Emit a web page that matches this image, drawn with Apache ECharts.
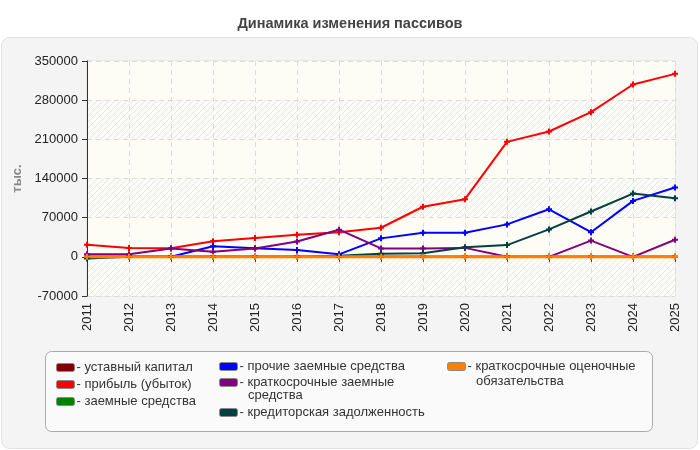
<!DOCTYPE html>
<html>
<head>
<meta charset="utf-8">
<script src="https://cdn.jsdelivr.net/npm/echarts@6/dist/echarts.min.js"></script>
<style>
  html, body { margin: 0; padding: 0; background: #ffffff; }
  #chart { width: 700px; height: 450px; }
</style>
</head>
<body>
<div id="chart"></div>
<script>
// данные
var years = ['2011', '2012', '2013', '2014', '2015', '2016', '2017', '2018', '2019', '2020', '2021', '2022', '2023', '2024', '2025'];
var ustavny = [0, 0, 0, 0, 0, 0, 0, 0, 0, 0, 0, 0, 0, 0, 0];
var pribyl = [21500, 16000, 15500, 28000, 33500, 39500, 44000, 52000, 89500, 103000, 205500, 224000, 258500, 308000, 327000];
var zaemnye = [0, 0, 0, 0, 0, 0, 0, 0, 0, 0, 0, 0, 0, 0, 0];
var prochie = [0, 0, 0, 19000, 15500, 12000, 4500, 33000, 43000, 43000, 58000, 85000, 44000, 100000, 124000];
var kratkZaem = [4500, 4500, 15000, 9000, 15000, 27500, 48500, 15000, 15000, 16000, 0, 0, 29000, 0, 30500];
var kredit = [-3000, 0, 0, 0, 0, 0, 2000, 5500, 6500, 17000, 21000, 49000, 81000, 113000, 104500];
var ocenoch = [0, 0, 0, 0, 0, 0, 0, 0, 0, 0, 0, 0, 0, 0, 0];

var FONT = '"Liberation Sans", Arial, sans-serif';

// штриховка фона
function hatch() {
    var c = document.createElement('canvas');
    c.width = 6; c.height = 6;
    var ctx = c.getContext('2d');
    ctx.fillStyle = '#fbfbf7';
    ctx.fillRect(0, 0, 6, 6);
    ctx.strokeStyle = '#e8e8e3';
    ctx.lineWidth = 1;
    ctx.beginPath();
    ctx.moveTo(0, 6); ctx.lineTo(6, 0);
    ctx.moveTo(-3, 3); ctx.lineTo(3, -3);
    ctx.moveTo(3, 9); ctx.lineTo(9, 3);
    ctx.stroke();
    return { image: c, repeat: 'repeat' };
}

var plus = 'path://M2,0H4V2H6V4H4V6H2V4H0V2H2Z';

function line(name, data, color, width) {
    return {
        name: name,
        type: 'line',
        data: data,
        symbol: plus,
        symbolSize: 6,
        showSymbol: true,
        itemStyle: { color: color },
        lineStyle: { color: color, width: width || 2 },
        emphasis: { disabled: true },
        animation: false
    };
}

// легенда: каждый элемент отдельно
function leg(name, left, top) {
    return {
        data: [name],
        left: left,
        top: top,
        icon: 'roundRect',
        itemWidth: 18,
        itemHeight: 8,
        itemGap: 0,
        padding: 0,
        itemStyle: { borderColor: '#8a8a8a', borderWidth: 1 },
        selectedMode: false,
        formatter: '- {name}',
        textStyle: { fontFamily: FONT, fontSize: 13, color: '#333', padding: [0, 0, 0, -3] }
    };
}

var chart = echarts.init(document.getElementById('chart'), null, { renderer: 'canvas' });

var option = {
    backgroundColor: '#ffffff',
    animation: false,
    title: {
        text: 'Динамика изменения пассивов',
        left: 'center',
        top: 11,
        textStyle: { fontFamily: FONT, fontSize: 14.5, fontWeight: 'bold', color: '#444' }
    },
    graphic: [
        { type: 'rect', z: -10, shape: { x: 1.5, y: 37.5, width: 696, height: 411, r: 8 }, style: { fill: '#f4f4f4', stroke: '#e2e2e2', lineWidth: 1 } },
        { type: 'rect', z: -9, shape: { x: 45.5, y: 351.5, width: 607, height: 80, r: 6 }, style: { fill: '#fafafa', stroke: '#aaaaaa', lineWidth: 1 } },
        { type: 'text', left: 248, top: 389, style: { text: 'средства', font: '13px ' + FONT, fill: '#333' } },
        { type: 'text', left: 476, top: 375, style: { text: 'обязательства', font: '13px ' + FONT, fill: '#333' } }
    ],
    legend: [
        leg('уставный капитал', 56, 361),
        leg('прибыль (убыток)', 56, 378),
        leg('заемные средства', 56, 395),
        leg('прочие заемные средства', 219, 360),
        leg('краткосрочные заемные', 219, 376),
        leg('кредиторская задолженность', 219, 406),
        leg('краткосрочные оценочные', 447, 360)
    ],
    grid: {
        left: 87, right: 25, top: 61, bottom: 154,
        show: true, borderColor: '#dddddd', borderWidth: 1, backgroundColor: 'transparent'
    },
    xAxis: {
        type: 'category',
        data: years,
        boundaryGap: false,
        axisLine: { lineStyle: { color: '#333', width: 1 } },
        axisTick: { show: true, length: 5, lineStyle: { color: '#333' } },
        axisLabel: { rotate: 90, margin: 7, fontFamily: FONT, fontSize: 13, color: '#222' },
        splitLine: { show: true, lineStyle: { color: '#dcdcdc', type: [5, 4] } }
    },
    yAxis: {
        type: 'value',
        min: -70000,
        max: 350000,
        interval: 70000,
        name: 'тыс.',
        nameLocation: 'middle',
        nameGap: 57,
        nameTextStyle: { fontFamily: FONT, fontSize: 13, fontWeight: 'bold', color: '#888' },
        axisLine: { show: true, lineStyle: { color: '#333', width: 1 } },
        axisTick: { show: true, length: 5, lineStyle: { color: '#333' } },
        axisLabel: {
            margin: 9, fontFamily: FONT, fontSize: 13, color: '#222',
            formatter: function (v) { return String(v); }
        },
        splitLine: { show: true, lineStyle: { color: '#dcdcdc', type: [5, 4] } },
        splitArea: { show: true, areaStyle: { color: [hatch(), '#fdfdf6'] } }
    },
    series: [
        line('уставный капитал', ustavny, '#800000'),
        line('прибыль (убыток)', pribyl, '#ff0000'),
        line('заемные средства', zaemnye, '#008000'),
        line('прочие заемные средства', prochie, '#0000ff'),
        line('краткосрочные заемные', kratkZaem, '#800080'),
        line('кредиторская задолженность', kredit, '#004040'),
        line('краткосрочные оценочные', ocenoch, '#ff8000', 3)
    ]
};

chart.setOption(option);
</script>
</body>
</html>
